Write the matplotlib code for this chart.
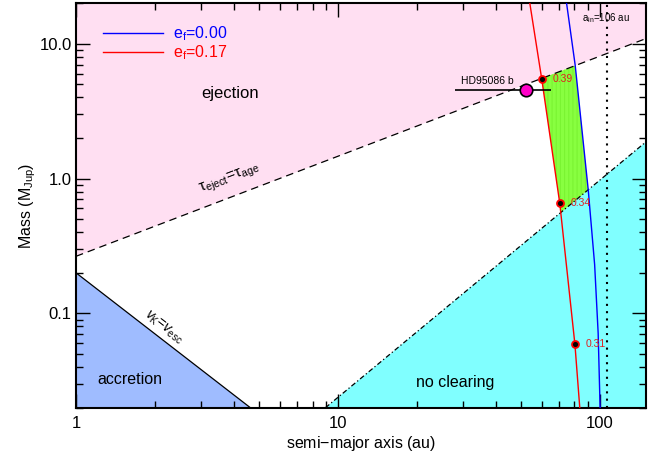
import numpy as np
import matplotlib
matplotlib.use('Agg')
import matplotlib.pyplot as plt
from matplotlib.patches import Polygon
from matplotlib.ticker import FixedLocator, NullFormatter, LogLocator

plt.rcParams['font.family'] = ['Liberation Sans', 'DejaVu Sans']
plt.rcParams['mathtext.fontset'] = 'custom'
plt.rcParams['mathtext.rm'] = 'Liberation Sans'
plt.rcParams['mathtext.it'] = 'Liberation Sans:italic'
plt.rcParams['hatch.linewidth'] = 0.8

# ---- data ----
x_range = [1.0, 150.0]
y_range = [0.02, 20.0]

eject_a = [1.0, 150.0]
eject_M = [0.265, 10.9]
noclear_a = [8.96, 150.0]
noclear_M = [0.02, 1.87]
accr_a = [1.0, 4.63]
accr_M = [0.2, 0.02]

blue_a = [74.6, 80.5, 90.3, 95.5, 98.5, 100.2]
blue_M = [20.0, 6.9, 0.819, 0.23, 0.0714, 0.02]
red_a = [54.0, 60.0, 70.3, 80.3, 83.8]
red_M = [20.0, 5.44, 0.653, 0.059, 0.02]

dots_a = [60.0, 70.3, 80.3]
dots_M = [5.44, 0.653, 0.059]
dots_lab = ['0.39', '0.34', '0.31']

planet_a = 52.1
planet_M = 4.5
planet_a_lo = 28.1
planet_a_hi = 65.0
planet_name = 'HD95086 b'

a_in = 106.0

xticks = [1, 10, 100]
xticklabels = ['1', '10', '100']
yticks = [0.1, 1.0, 10.0]
yticklabels = ['0.1', '1.0', '10.0']

# ---- figure ----
fig = plt.figure(figsize=(6.59, 4.55), dpi=100)
ax = fig.add_axes([76/659, 1-407.7/455, 570/659, 404.7/455])
ax.set_xscale('log')
ax.set_yscale('log')
ax.set_xlim(x_range)
ax.set_ylim(y_range)

pink = '#ffdff2'
cyan = '#80ffff'
accr_col = '#9fbcff'
green = '#88ff40'

# ejection region (above dashed line)
ax.add_patch(Polygon([(eject_a[0], eject_M[0]), (eject_a[1], eject_M[1]),
                      (x_range[1], y_range[1]), (x_range[0], y_range[1])],
                     closed=True, facecolor=pink, edgecolor='none', zorder=0))
# no clearing region
ax.add_patch(Polygon([(noclear_a[0], noclear_M[0]), (noclear_a[1], noclear_M[1]),
                      (x_range[1], y_range[0])],
                     closed=True, facecolor=cyan, edgecolor='none', zorder=0))
# accretion region
ax.add_patch(Polygon([(accr_a[0], accr_M[0]), (accr_a[1], accr_M[1]),
                      (x_range[0], y_range[0])],
                     closed=True, facecolor=accr_col, edgecolor='none', zorder=0))

# green allowed region: between red & blue curves, clipped to band between lines
band = Polygon([(eject_a[0], eject_M[0]), (eject_a[1], eject_M[1]),
                (noclear_a[1], noclear_M[1]), (noclear_a[0], noclear_M[0]),
                (x_range[0], y_range[0])], closed=True,
               facecolor='none', edgecolor='none', transform=ax.transData)
ax.add_patch(band)
gverts = list(zip(red_a, red_M)) + list(zip(blue_a[::-1], blue_M[::-1]))
gpatch = Polygon(gverts, closed=True, facecolor=green, edgecolor='#7af432',
                 linewidth=0, hatch='||||', zorder=1)
ax.add_patch(gpatch)
gpatch.set_clip_path(band)

# boundary lines
ax.plot(eject_a, eject_M, color='black', lw=0.9, ls=(0, (6, 4)), zorder=2)
ax.plot(noclear_a, noclear_M, color='black', lw=0.9, ls=(0, (4, 2, 1, 2)), zorder=2)
ax.plot(accr_a, accr_M, color='black', lw=0.9, zorder=2)

# e_f curves
ax.plot(blue_a, blue_M, color='blue', lw=1.0, zorder=3, label='e$_{\\rm f}$=0.00')
ax.plot(red_a, red_M, color='red', lw=1.0, zorder=3, label='e$_{\\rm f}$=0.17')

# a_in dotted line
ax.axvline(a_in, color='black', lw=1.5, ls=(0, (1, 2.5)), zorder=3)
ax.text(a_in, 15.5, 'a$_{\\rm in}$=106 au', fontsize=7, ha='center', va='center', zorder=4)

# dots and labels
ax.plot(dots_a, dots_M, 'o', ms=5, mfc='black', mec='red', mew=1.3, zorder=5)
for a, m, lab in zip(dots_a, dots_M, dots_lab):
    ax.annotate(lab, (a, m), xytext=(8, 0), textcoords='offset points',
                fontsize=7.5, color='#e02020', ha='left', va='center', zorder=5)

# planet
ax.errorbar([planet_a], [planet_M], xerr=[[planet_a - planet_a_lo], [planet_a_hi - planet_a]],
            fmt='o', ms=9, mfc='#ff00c8', mec='black', mew=1.2, ecolor='black',
            elinewidth=1.2, capsize=0, zorder=6)
ax.annotate(planet_name, (planet_a, planet_M), xytext=(-28, 7), textcoords='offset points',
            fontsize=7.5, ha='center', va='center', zorder=6)

# region labels
ax.text(3.88, 4.28, 'ejection', fontsize=12, ha='center', va='center')
ax.text(1.61, 0.0326, 'accretion', fontsize=11.5, ha='center', va='center')
ax.text(28.1, 0.0305, 'no clearing', fontsize=11.5, ha='center', va='center')
ax.text(3.85, 0.99, 'τ$_{\\rm eject}$=τ$_{\\rm age}$', fontsize=11, ha='center',
        va='center', rotation=21)
ax.text(2.15, 0.079, '$v_{\\rm K}$=$v_{\\rm esc}$', fontsize=10, ha='center',
        va='center', rotation=-37.8)

# legend
leg = ax.legend(loc='upper left', bbox_to_anchor=(0.027, 0.975), frameon=False,
                fontsize=11.5, handlelength=3.8, handletextpad=0.6, labelspacing=0.05,
                borderpad=0.2, labelcolor='linecolor')

# axes styling
ax.xaxis.set_major_locator(FixedLocator(xticks))
ax.set_xticklabels(xticklabels)
ax.yaxis.set_major_locator(FixedLocator(yticks))
ax.set_yticklabels(yticklabels)
ax.xaxis.set_minor_locator(LogLocator(base=10, subs=np.arange(2, 10)))
ax.yaxis.set_minor_locator(LogLocator(base=10, subs=np.arange(2, 10)))
ax.xaxis.set_minor_formatter(NullFormatter())
ax.yaxis.set_minor_formatter(NullFormatter())
ax.tick_params(which='both', direction='in', top=True, right=True, width=1.0,
               labelsize=12, colors='black')
ax.tick_params(which='major', length=10)
ax.tick_params(axis='x', which='major', pad=6)
ax.tick_params(axis='y', which='major', pad=3)
ax.tick_params(which='minor', length=5)
for s in ax.spines.values():
    s.set_linewidth(1.5)

ax.set_xlabel('semi$-$major axis (au)', fontsize=11.5, labelpad=2)
ax.set_ylabel('Mass (M$_{\\rm Jup}$)', fontsize=11.5, labelpad=1)

fig.savefig('out.png', dpi=100)
